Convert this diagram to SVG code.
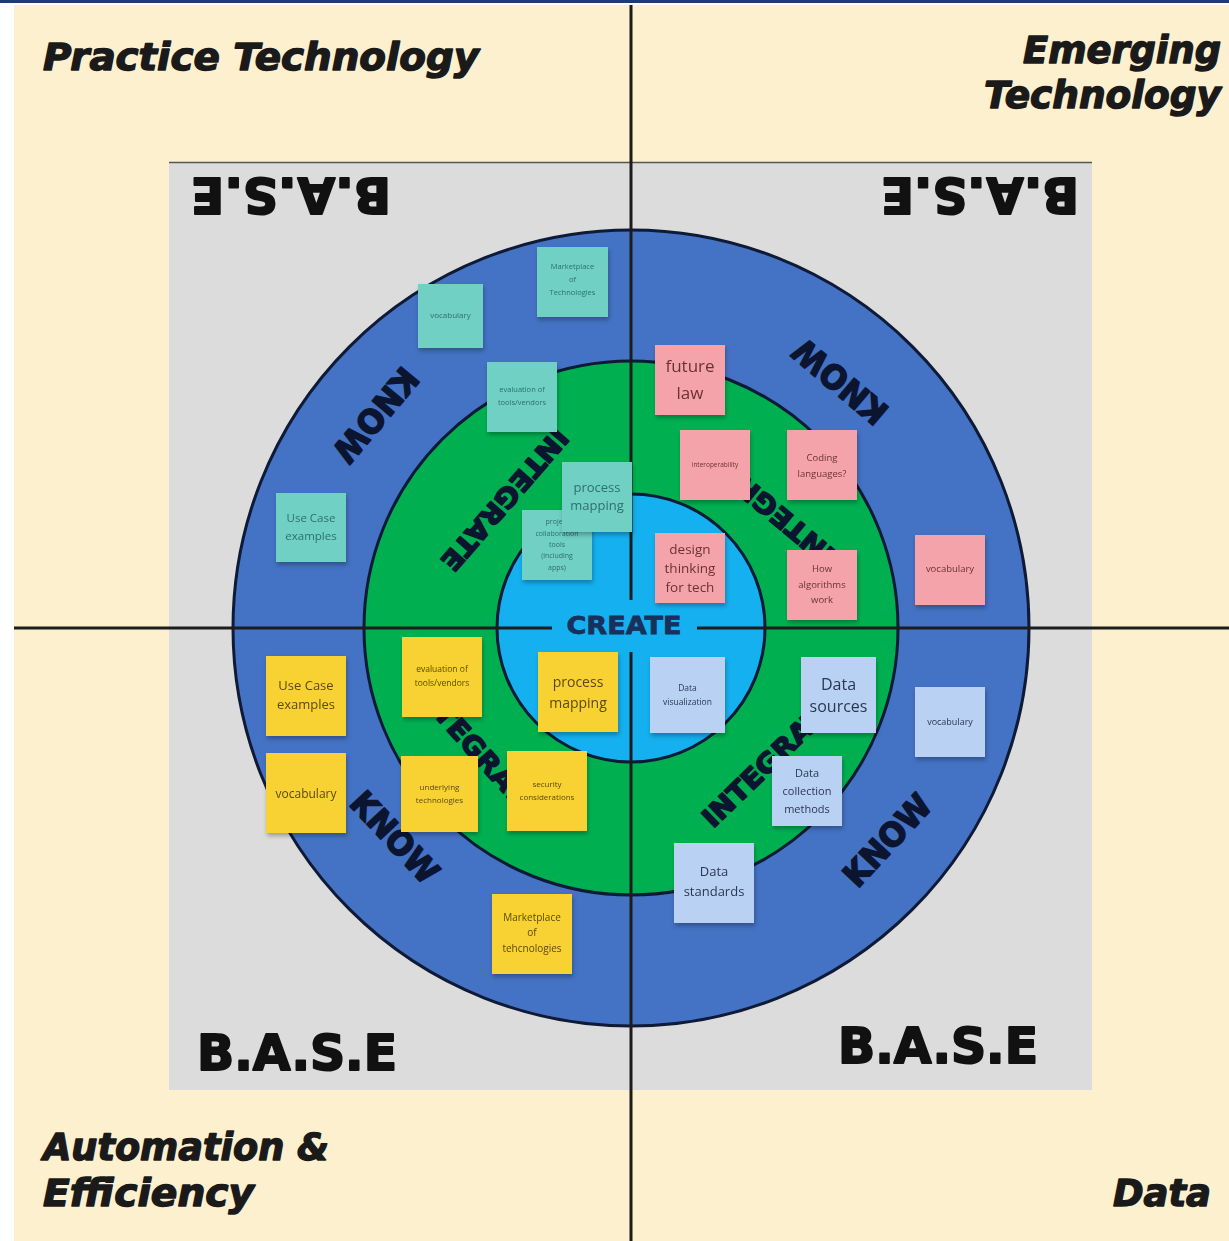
<svg xmlns="http://www.w3.org/2000/svg" width="1229" height="1241" viewBox="0 0 1229 1241">
<defs>
<filter id="sh" x="-20%" y="-20%" width="140%" height="150%">
<feDropShadow dx="1" dy="3" stdDeviation="2" flood-color="#000" flood-opacity="0.28"/>
</filter>
<style>
.head{font-family:"DejaVu Sans","Liberation Sans",sans-serif;font-weight:bold;font-style:italic;font-size:37px;fill:#1a1a1a;stroke:#1a1a1a;stroke-width:1.4;stroke-linejoin:round}
.base{font-family:"DejaVu Sans","Liberation Sans",sans-serif;font-weight:bold;font-size:50px;fill:#111;stroke:#111;stroke-width:2;stroke-linejoin:round}
.ring{font-family:"DejaVu Sans","Liberation Sans",sans-serif;font-weight:bold;fill:#0c1530;stroke:#0c1530;stroke-width:1.6;stroke-linejoin:round;text-anchor:middle}
.qline{stroke:#1c1c1c;stroke-width:3;fill:none}
.circ{stroke:#0e1a36;stroke-width:3}
.note{filter:url(#sh)}
.nt{font-family:"Open Sans","Noto Sans",sans-serif;text-anchor:middle}
.teal rect{fill:#6fd0c4}
.teal text{fill:#2f6f6c}
.pink rect{fill:#f4a3aa}
.pink text{fill:#6b3236}
.yel rect{fill:#f8d133}
.yel text{fill:#5b4a12}
.blu rect{fill:#b9d2f4}
.blu text{fill:#2a3656}
</style>
</defs>
<rect x="0" y="0" width="1229" height="1241" fill="#ffffff"/>
<rect x="0" y="0" width="1229" height="3" fill="#1f3b73"/>
<rect x="14" y="5" width="1215" height="1236" fill="#fdf0cf"/>
<rect x="169" y="162" width="923" height="928" fill="#dcdcdc"/>
<line x1="169" y1="162.5" x2="1092" y2="162.5" stroke="#555" stroke-width="1.5"/>

<g id="rings">
<circle cx="631" cy="628" r="398" fill="#4472c4" class="circ"/>
<circle cx="631" cy="628" r="267" fill="#00b050" class="circ"/>
<circle cx="631" cy="628" r="134" fill="#14b0f0" class="circ"/>
</g>

<g id="connectors">
<line class="qline" x1="631" y1="5" x2="631" y2="1241"/>
<line class="qline" x1="14" y1="628" x2="1229" y2="628"/>
</g>

<g id="create">
<rect x="552" y="600" width="145" height="52" fill="#14b0f0"/>
<text x="624" y="634" font-family="DejaVu Sans, Liberation Sans, sans-serif" font-weight="bold" font-size="25" fill="#17315c" stroke="#17315c" stroke-width="0.8" text-anchor="middle" textLength="115" lengthAdjust="spacingAndGlyphs">CREATE</text>
</g>

<g id="ring-labels">
<text class="ring" font-size="33" transform="translate(376,415) rotate(130)" y="12" textLength="112" lengthAdjust="spacingAndGlyphs">KNOW</text>
<text class="ring" font-size="33" transform="translate(840,382) rotate(220)" y="12" textLength="112" lengthAdjust="spacingAndGlyphs">KNOW</text>
<text class="ring" font-size="33" transform="translate(395,837) rotate(47)" y="12" textLength="112" lengthAdjust="spacingAndGlyphs">KNOW</text>
<text class="ring" font-size="33" transform="translate(887,840) rotate(-47)" y="12" textLength="112" lengthAdjust="spacingAndGlyphs">KNOW</text>
<text class="ring" font-size="27" transform="translate(505,500) rotate(131)" y="10" textLength="178" lengthAdjust="spacingAndGlyphs">INTEGRATE</text>
<text class="ring" font-size="27" transform="translate(762,502) rotate(220)" y="10" textLength="178" lengthAdjust="spacingAndGlyphs">INTEGRATE</text>
<text class="ring" font-size="27" transform="translate(476,748) rotate(48)" y="10" textLength="178" lengthAdjust="spacingAndGlyphs">INTEGRATE</text>
<text class="ring" font-size="27" transform="translate(770,760) rotate(-44)" y="10" textLength="178" lengthAdjust="spacingAndGlyphs">INTEGRATE</text>
</g>

<g id="base-labels">
<text class="base" transform="translate(291,196) rotate(180)" x="0" y="18" text-anchor="middle" textLength="200" lengthAdjust="spacingAndGlyphs">B.A.S.E</text>
<text class="base" transform="translate(980,196) rotate(180)" x="0" y="18" text-anchor="middle" textLength="198" lengthAdjust="spacingAndGlyphs">B.A.S.E</text>
<text class="base" x="197" y="1070" textLength="200" lengthAdjust="spacingAndGlyphs">B.A.S.E</text>
<text class="base" x="838" y="1063" textLength="200" lengthAdjust="spacingAndGlyphs">B.A.S.E</text>
</g>

<g id="headings">
<text class="head" x="43" y="70" textLength="436" lengthAdjust="spacingAndGlyphs">Practice Technology</text>
<text class="head" x="1221" y="63" text-anchor="end" textLength="198" lengthAdjust="spacingAndGlyphs">Emerging</text>
<text class="head" x="1221" y="108" text-anchor="end" textLength="237" lengthAdjust="spacingAndGlyphs">Technology</text>
<text class="head" x="43" y="1160" textLength="286" lengthAdjust="spacingAndGlyphs">Automation &amp;</text>
<text class="head" x="43" y="1206" textLength="211" lengthAdjust="spacingAndGlyphs">Efficiency</text>
<text class="head" x="1211" y="1206" text-anchor="end" textLength="98" lengthAdjust="spacingAndGlyphs">Data</text>
</g>

<!-- Top-left teal notes -->
<g id="tl-marketplace" class="note teal"><rect x="537" y="247" width="71" height="70"/>
<text class="nt" font-size="7.5" x="572.5"><tspan x="572.5" y="269">Marketplace</tspan><tspan x="572.5" y="282">of</tspan><tspan x="572.5" y="295">Technologies</tspan></text></g>
<g id="tl-vocabulary" class="note teal"><rect x="418" y="284" width="65" height="64"/>
<text class="nt" font-size="8" x="450.5" y="318">vocabulary</text></g>
<g id="tl-evaluation" class="note teal"><rect x="487" y="362" width="70" height="70"/>
<text class="nt" font-size="7.5"><tspan x="522" y="392">evaluation of</tspan><tspan x="522" y="405">tools/vendors</tspan></text></g>
<g id="tl-usecase" class="note teal"><rect x="276" y="493" width="70" height="69"/>
<text class="nt" font-size="11.5"><tspan x="311" y="522">Use Case</tspan><tspan x="311" y="540">examples</tspan></text></g>
<g id="tl-collab" class="note teal"><rect x="522" y="510" width="70" height="70"/>
<text class="nt" font-size="7"><tspan x="557" y="524">project</tspan><tspan x="557" y="536">collaboration</tspan><tspan x="557" y="547">tools</tspan><tspan x="557" y="558">(including</tspan><tspan x="557" y="570">apps)</tspan></text></g>
<g id="tl-process" class="note teal"><rect x="562" y="462" width="70" height="70"/>
<text class="nt" font-size="13"><tspan x="597" y="492">process</tspan><tspan x="597" y="510">mapping</tspan></text></g>

<!-- Top-right pink notes -->
<g id="tr-future" class="note pink"><rect x="655" y="345" width="70" height="70"/>
<text class="nt" font-size="17"><tspan x="690" y="372">future</tspan><tspan x="690" y="399">law</tspan></text></g>
<g id="tr-interop" class="note pink"><rect x="680" y="430" width="70" height="70"/>
<text class="nt" font-size="6.5" x="715" y="467">interoperability</text></g>
<g id="tr-coding" class="note pink"><rect x="787" y="430" width="70" height="70"/>
<text class="nt" font-size="9.5"><tspan x="822" y="461">Coding</tspan><tspan x="822" y="477">languages?</tspan></text></g>
<g id="tr-design" class="note pink"><rect x="655" y="533" width="70" height="70"/>
<text class="nt" font-size="13.5"><tspan x="690" y="554">design</tspan><tspan x="690" y="573">thinking</tspan><tspan x="690" y="592">for tech</tspan></text></g>
<g id="tr-algorithms" class="note pink"><rect x="787" y="550" width="70" height="70"/>
<text class="nt" font-size="9.5"><tspan x="822" y="572">How</tspan><tspan x="822" y="588">algorithms</tspan><tspan x="822" y="603">work</tspan></text></g>
<g id="tr-vocabulary" class="note pink"><rect x="915" y="535" width="70" height="70"/>
<text class="nt" font-size="9.5" x="950" y="572">vocabulary</text></g>

<!-- Bottom-left yellow notes -->
<g id="bl-usecase" class="note yel"><rect x="266" y="656" width="80" height="80"/>
<text class="nt" font-size="13"><tspan x="306" y="690">Use Case</tspan><tspan x="306" y="709">examples</tspan></text></g>
<g id="bl-vocabulary" class="note yel"><rect x="266" y="753" width="80" height="80"/>
<text class="nt" font-size="12" x="306" y="798">vocabulary</text></g>
<g id="bl-evaluation" class="note yel"><rect x="402" y="637" width="80" height="80"/>
<text class="nt" font-size="8.5"><tspan x="442" y="672">evaluation of</tspan><tspan x="442" y="686">tools/vendors</tspan></text></g>
<g id="bl-process" class="note yel"><rect x="538" y="652" width="80" height="80"/>
<text class="nt" font-size="14"><tspan x="578" y="687">process</tspan><tspan x="578" y="708">mapping</tspan></text></g>
<g id="bl-underlying" class="note yel"><rect x="401" y="756" width="77" height="76"/>
<text class="nt" font-size="8"><tspan x="439.5" y="790">underlying</tspan><tspan x="439.5" y="803">technologies</tspan></text></g>
<g id="bl-security" class="note yel"><rect x="507" y="751" width="80" height="80"/>
<text class="nt" font-size="8"><tspan x="547" y="787">security</tspan><tspan x="547" y="800">considerations</tspan></text></g>
<g id="bl-marketplace" class="note yel"><rect x="492" y="894" width="80" height="80"/>
<text class="nt" font-size="10"><tspan x="532" y="921">Marketplace</tspan><tspan x="532" y="936">of</tspan><tspan x="532" y="952">tehcnologies</tspan></text></g>

<!-- Bottom-right blue notes -->
<g id="br-visualization" class="note blu"><rect x="650" y="657" width="75" height="76"/>
<text class="nt" font-size="8.5"><tspan x="687.5" y="691">Data</tspan><tspan x="687.5" y="705">visualization</tspan></text></g>
<g id="br-sources" class="note blu"><rect x="801" y="657" width="75" height="76"/>
<text class="nt" font-size="16"><tspan x="838.5" y="690">Data</tspan><tspan x="838.5" y="712">sources</tspan></text></g>
<g id="br-vocabulary" class="note blu"><rect x="915" y="687" width="70" height="70"/>
<text class="nt" font-size="9" x="950" y="725">vocabulary</text></g>
<g id="br-collection" class="note blu"><rect x="772" y="756" width="70" height="70"/>
<text class="nt" font-size="11"><tspan x="807" y="777">Data</tspan><tspan x="807" y="795">collection</tspan><tspan x="807" y="813">methods</tspan></text></g>
<g id="br-standards" class="note blu"><rect x="674" y="843" width="80" height="80"/>
<text class="nt" font-size="13"><tspan x="714" y="876">Data</tspan><tspan x="714" y="896">standards</tspan></text></g>
</svg>
